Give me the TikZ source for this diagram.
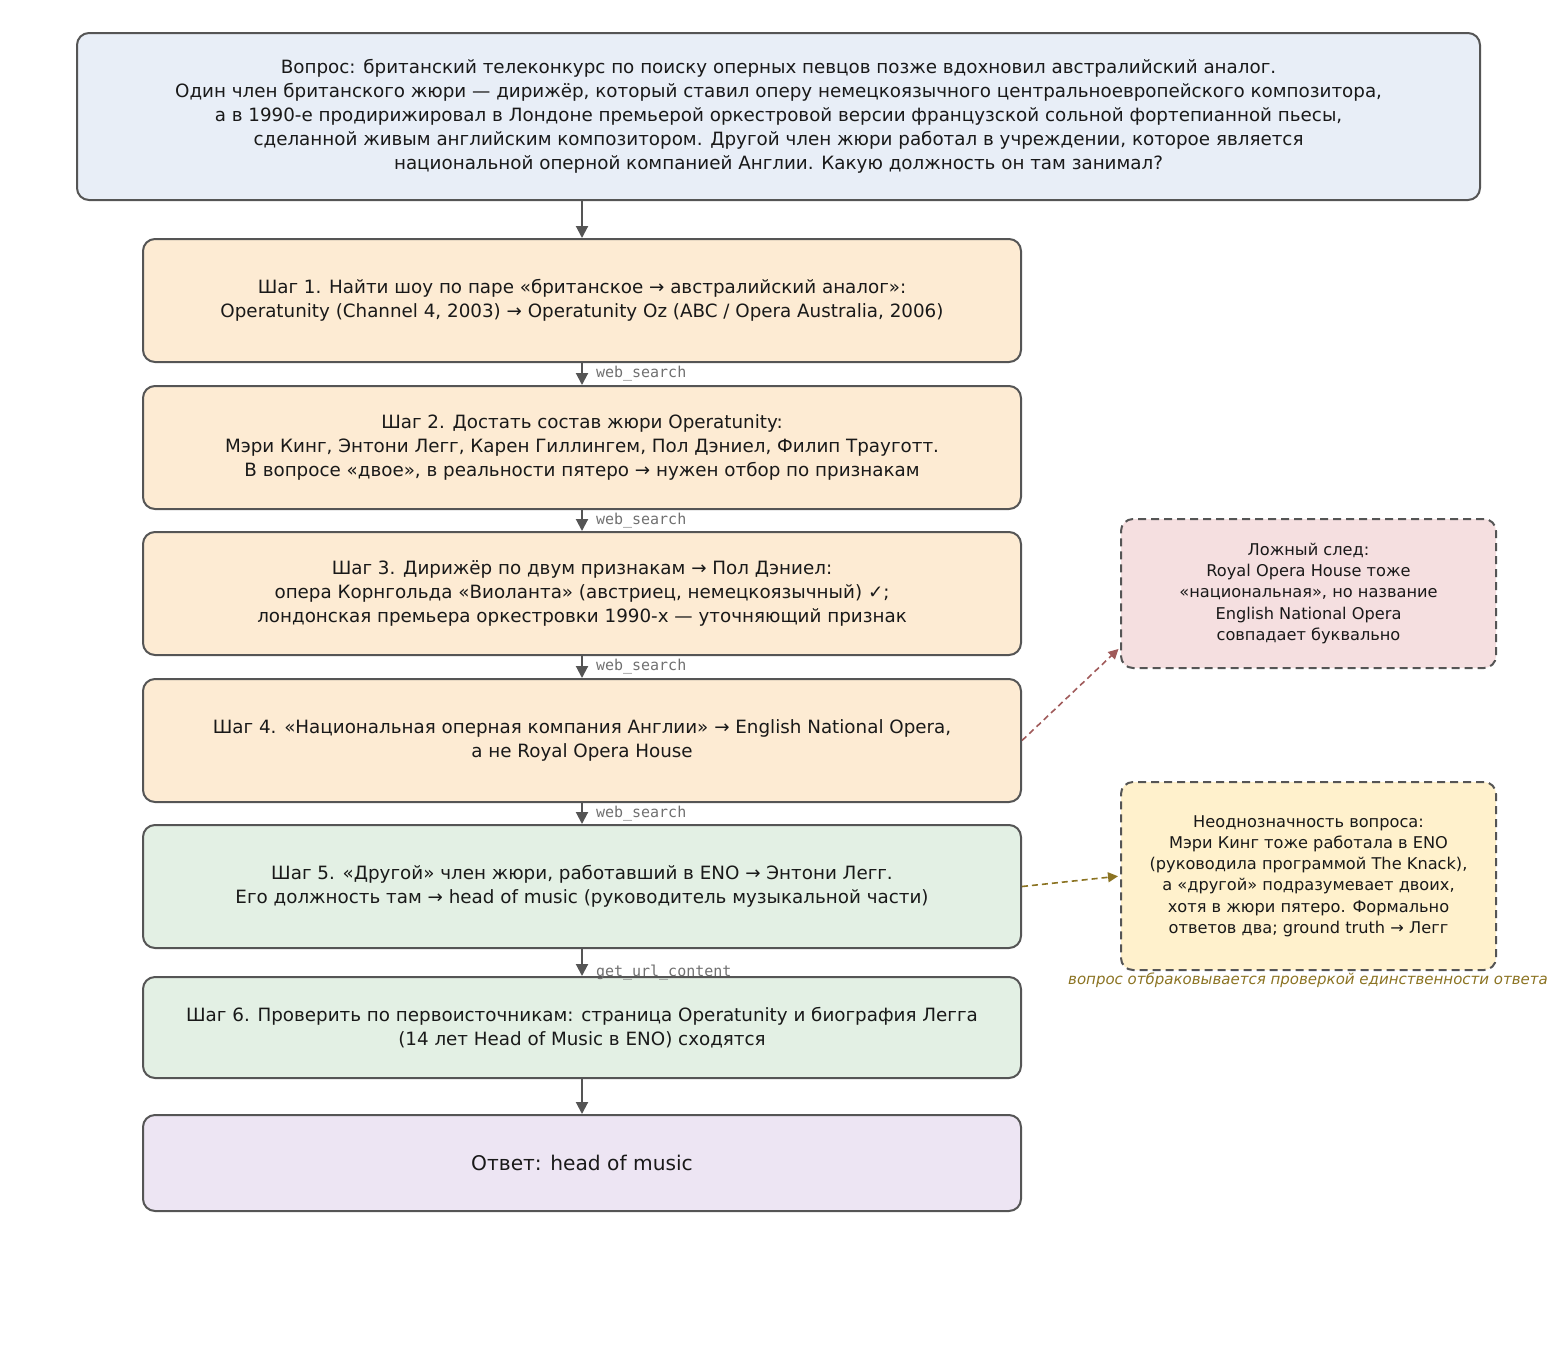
\documentclass[tikz,border=0pt]{standalone}
\usepackage{fontspec}
\setmainfont{DejaVu Sans}
\setmonofont{DejaVu Sans Mono}
\usepackage{xcolor}
\usepackage{tikz}
\usetikzlibrary{positioning}
\usetikzlibrary{calc}
\usetikzlibrary{arrows.meta}

\definecolor{qfill}{HTML}{E8EEF7}
\definecolor{stepfill}{HTML}{FDEBD3}
\definecolor{checkfill}{HTML}{E3F0E4}
\definecolor{ansfill}{HTML}{EDE5F3}
\definecolor{trapfill}{HTML}{F5DFE0}
\definecolor{warnfill}{HTML}{FFF1CC}
\definecolor{edgegray}{HTML}{555555}
\definecolor{trapline}{HTML}{A05A5A}
\definecolor{warnline}{HTML}{8B7322}
\definecolor{tooltext}{HTML}{707070}

\begin{document}
\begin{tikzpicture}[x=0.5pt,y=-0.5pt,
  font=\fontsize{9.15}{12}\selectfont,
  box/.style={draw=edgegray, line width=1pt, rounded corners=6pt, align=center, text=black!90},
  stepbox/.style={box, fill=stepfill, minimum width=439pt, minimum height=61.5pt},
  sidebox/.style={box, dash pattern=on 4pt off 2.5pt, minimum width=187.5pt, font=\fontsize{8.1}{10.6}\selectfont},
  flow/.style={-{Triangle[length=6pt,width=6pt]}, draw=edgegray, line width=1pt},
  sideflow/.style={-{Triangle[length=5pt,width=5pt]}, dash pattern=on 3pt off 2pt, line width=0.8pt, shorten >=1pt},
  tool/.style={font=\fontsize{7.5}{9}\ttfamily, text=tooltext, anchor=west, inner sep=0pt, xshift=6.5pt}]

\useasboundingbox (0,0) rectangle (1560,1351);

% Question
\node[box, fill=qfill, minimum width=701.5pt, minimum height=83.5pt] (question) at (778.5,116.5)
  {Вопрос: британский телеконкурс по поиску оперных певцов позже вдохновил австралийский аналог.\\
   Один член британского жюри — дирижёр, который ставил оперу немецкоязычного центральноевропейского композитора,\\
   а в 1990-е продирижировал в Лондоне премьерой оркестровой версии французской сольной фортепианной пьесы,\\
   сделанной живым английским композитором. Другой член жюри работал в учреждении, которое является\\
   национальной оперной компанией Англии. Какую должность он там занимал?};

% Steps
\node[stepbox] (s1) at (582,300.5)
  {Шаг 1. Найти шоу по паре «британское → австралийский аналог»:\\
   Operatunity (Channel 4, 2003) → Operatunity Oz (ABC / Opera Australia, 2006)};
\node[stepbox] (s2) at (582,447.5)
  {Шаг 2. Достать состав жюри Operatunity:\\
   Мэри Кинг, Энтони Легг, Карен Гиллингем, Пол Дэниел, Филип Трауготт.\\
   В вопросе «двое», в реальности пятеро → нужен отбор по признакам};
\node[stepbox] (s3) at (582,593.5)
  {Шаг 3. Дирижёр по двум признакам → Пол Дэниел:\\
   опера Корнгольда «Виоланта» (австриец, немецкоязычный) ✓;\\
   лондонская премьера оркестровки 1990-х — уточняющий признак};
\node[stepbox] (s4) at (582,740.5)
  {Шаг 4. «Национальная оперная компания Англии» → English National Opera,\\
   а не Royal Opera House};
\node[stepbox, fill=checkfill] (s5) at (582,886.5)
  {Шаг 5. «Другой» член жюри, работавший в ENO → Энтони Легг.\\
   Его должность там → head of music (руководитель музыкальной части)};
\node[stepbox, fill=checkfill, minimum height=50.5pt] (s6) at (582,1027.5)
  {Шаг 6. Проверить по первоисточникам: страница Operatunity и биография Легга\\
   (14 лет Head of Music в ENO) сходятся};

% Answer
\node[box, fill=ansfill, minimum width=439pt, minimum height=48pt, font=\fontsize{10.1}{13}\selectfont] (answer) at (582,1163)
  {Ответ: head of music};

% Side notes
\node[sidebox, fill=trapfill, minimum height=74.5pt] (trap) at (1308.5,593.5)
  {Ложный след:\\
   Royal Opera House тоже\\
   «национальная», но название\\
   English National Opera\\
   совпадает буквально};
\node[sidebox, fill=warnfill, minimum height=94pt] (ambig) at (1308.5,876)
  {Неоднозначность вопроса:\\
   Мэри Кинг тоже работала в ENO\\
   (руководила программой The Knack),\\
   а «другой» подразумевает двоих,\\
   хотя в жюри пятеро. Формально\\
   ответов два; ground truth → Легг};
\node[font=\fontsize{7.5}{9}\selectfont\itshape, text=warnline, inner sep=0pt] (rejected) at (1308,980)
  {вопрос отбраковывается проверкой единственности ответа};

% Main flow
\draw[flow] (question.south -| s1) -- (s1.north);
\draw[flow] (s1.south) -- node[tool] {web\_search} (s2.north);
\draw[flow] (s2.south) -- node[tool] {web\_search} (s3.north);
\draw[flow] (s3.south) -- node[tool] {web\_search} (s4.north);
\draw[flow] (s4.south) -- node[tool] {web\_search} (s5.north);
\draw[flow] (s5.south) -- node[tool, yshift=-5pt] {get\_url\_content} (s6.north);
\draw[flow] (s6.south) -- (answer.north);

% Side arrows
\draw[sideflow, trapline] (s4.east) -- (trap.196);
\draw[sideflow, warnline] (s5.east) -- (ambig.west);

\end{tikzpicture}
\end{document}
